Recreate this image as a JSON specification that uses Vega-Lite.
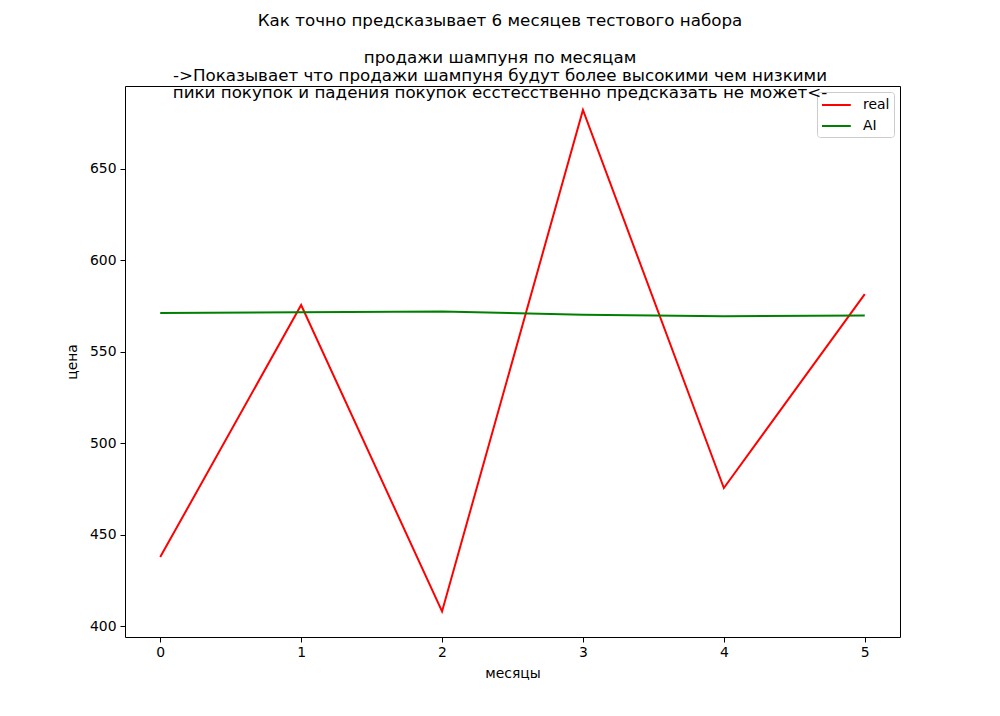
{
  "$schema": "https://vega.github.io/schema/vega-lite/v6.json",
  "width": 775,
  "height": 551,
  "autosize": "none",
  "padding": {"left": 125, "top": 86, "right": 100, "bottom": 79},
  "background": "white",
  "config": {
    "font": "DejaVu Sans",
    "view": {"stroke": "black", "strokeWidth": 1},
    "axis": {
      "domainColor": "black",
      "tickColor": "black",
      "labelColor": "black",
      "titleColor": "black",
      "labelFont": "DejaVu Sans",
      "titleFont": "DejaVu Sans",
      "labelFontSize": 13.9,
      "titleFontSize": 13.9,
      "titleFontWeight": "normal",
      "tickSize": 5,
      "grid": false
    }
  },
  "title": {
    "text": "Как точно предсказывает 6 месяцев тестового набора",
    "subtitle": [
      "продажи шампуня по месяцам",
      "->Показывает что продажи шампуня будут более высокими чем низкими",
      "пики покупок и падения покупок есстесственно предсказать не может<-"
    ],
    "font": "DejaVu Sans",
    "fontSize": 16.7,
    "fontWeight": "normal",
    "color": "black",
    "lineHeight": 17.8,
    "subtitleFont": "DejaVu Sans",
    "subtitleFontSize": 16.7,
    "subtitleFontWeight": "normal",
    "subtitleColor": "black",
    "subtitleLineHeight": 17.6,
    "subtitlePadding": 20,
    "anchor": "middle",
    "dx": -12.5,
    "offset": -16
  },
  "data": {
    "values": [
      {"month": 0, "value": 437.7, "series": "real"},
      {"month": 1, "value": 575.6, "series": "real"},
      {"month": 2, "value": 408.0, "series": "real"},
      {"month": 3, "value": 682.3, "series": "real"},
      {"month": 4, "value": 475.5, "series": "real"},
      {"month": 5, "value": 581.6, "series": "real"},
      {"month": 0, "value": 571.2, "series": "AI"},
      {"month": 1, "value": 571.6, "series": "AI"},
      {"month": 2, "value": 572.0, "series": "AI"},
      {"month": 3, "value": 570.3, "series": "AI"},
      {"month": 4, "value": 569.4, "series": "AI"},
      {"month": 5, "value": 569.9, "series": "AI"}
    ]
  },
  "mark": {"type": "line", "strokeWidth": 2, "clip": true},
  "encoding": {
    "x": {
      "field": "month",
      "type": "quantitative",
      "title": "месяцы",
      "scale": {"domain": [-0.25, 5.25], "nice": false, "zero": false},
      "axis": {"values": [0, 1, 2, 3, 4, 5], "format": "d", "labelPadding": 3, "titlePadding": 8, "domain": false}
    },
    "y": {
      "field": "value",
      "type": "quantitative",
      "title": "цена",
      "scale": {"domain": [394, 695.4], "nice": false, "zero": false},
      "axis": {"values": [400, 450, 500, 550, 600, 650], "labelPadding": 4, "titlePadding": 10, "domain": false}
    },
    "color": {
      "field": "series",
      "type": "nominal",
      "sort": ["real", "AI"],
      "scale": {"domain": ["real", "AI"], "range": ["#ff0000", "#008000"]},
      "legend": {
        "title": null,
        "orient": "top-right",
        "offset": 6,
        "symbolType": "M-1,0H2.6",
        "symbolSize": 256,
        "symbolStrokeWidth": 2,
        "labelFontSize": 13.9,
        "labelColor": "black",
        "labelFont": "DejaVu Sans",
        "labelOffset": 24,
        "rowPadding": 5,
        "padding": 4,
        "strokeColor": "#cccccc",
        "cornerRadius": 3,
        "fillColor": "rgba(255,255,255,0.8)"
      }
    }
  }
}
